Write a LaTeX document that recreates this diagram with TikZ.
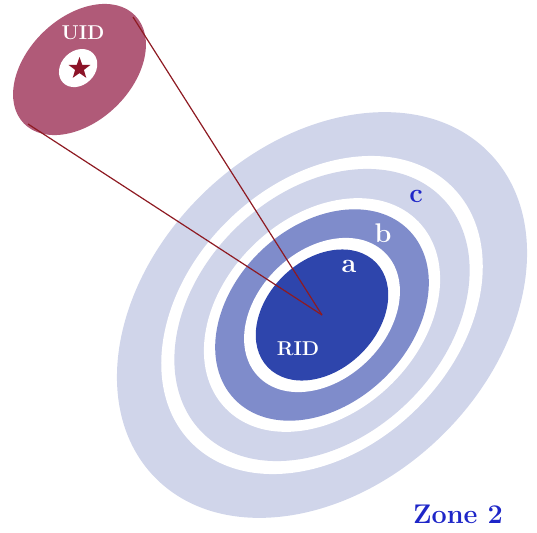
\documentclass[tikz,border=0pt]{standalone}
\usetikzlibrary{shapes.geometric}
\definecolor{lav}{HTML}{D0D5EA}
\definecolor{midblue}{HTML}{7F8CCB}
\definecolor{darkblue}{HTML}{2E45AC}
\definecolor{uidpink}{HTML}{B05A78}
\definecolor{starred}{HTML}{8C1428}
\definecolor{linered}{HTML}{8E1A22}
\definecolor{textblue}{HTML}{1E26C8}
\tikzset{
  lbl/.style={font=\bfseries\fontsize{#1}{#1}\selectfont, inner sep=0pt},
  conn/.style={draw=linered, line width=1.2pt},
}
\begin{document}
\begin{tikzpicture}[x=1pt,y=-1pt]
\useasboundingbox (0,0) rectangle (537,532);
\coordinate (c) at (322,315);
% zone rings
\foreach \s/\col in {1/lav, 0.784/white, 0.72/lav, 0.576/white, 0.521/midblue, 0.38/white, 0.323/darkblue}
  \fill[\col, rotate around={44:(c)}] (c) ellipse [x radius=\s*233pt, y radius=\s*170pt];
% UID ellipse
\coordinate (u) at (79.5,69.5);
\fill[uidpink, rotate around={44:(u)}] (u) ellipse [x radius=77.5pt, y radius=52pt];
\fill[white, rotate around={44:(u)}] (79.5,67.5) ellipse [x radius=21pt, y radius=17pt];
\node[star, star points=5, star point ratio=2.5, fill=starred, minimum size=23pt, inner sep=0pt] (star) at (79.5,68.5) {};
% connectors
\coordinate (u1) at (133,17);
\coordinate (u2) at (28,124);
\draw[conn] (u1) -- (c);
\draw[conn] (u2) -- (c);
% labels
\node[lbl=20, text=white] (uid) at (83,33) {UID};
\node[lbl=20, text=white] (rid) at (298,349) {RID};
\node[lbl=27, text=white] (la) at (349,266) {a};
\node[lbl=27, text=white] (lb) at (383,233) {b};
\node[lbl=27, text=textblue] (lc) at (416,196) {c};
\node[lbl=27, text=textblue] (zone) at (458,514) {Zone 2};
\end{tikzpicture}
\end{document}
